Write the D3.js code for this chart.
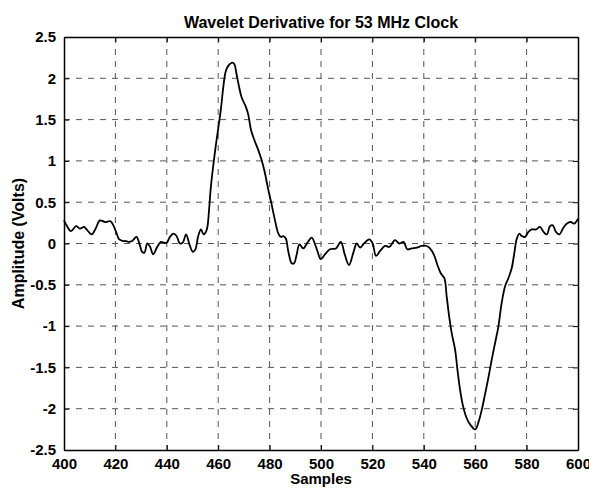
<!DOCTYPE html>
<html>
<head>
<meta charset="utf-8">
<title>Wavelet Derivative</title>
<script src="https://d3js.org/d3.v7.min.js"></script>
<style>
body { margin:0; background:#fff; }
text { font-family: Arial, "Liberation Sans", sans-serif; font-weight: bold; }
</style>
</head>
<body>
<script>
// values
var samples = [400,401,402.7,404.7,406.2,407.8,408.8,410.8,412.3,414,416,418,419.2,420.5,421.5,423,424.1,425,426.5,428.2,
	429.5,430.4,431.3,432.4,433.5,434.7,436.3,437.7,438.9,440,441.2,442.6,443.8,445.1,446.2,447.5,448.8,450.1,451,452.3,
	453.3,454.3,455.2,455.8,456.4,457.1,458.1,459,460,461.1,462,462.9,463.9,465.5,466.3,467.2,468.1,469.1,470.7,471.7,
	472.8,474.1,475.6,476.9,478.2,479.5,480.8,482.1,483.4,484.4,485.3,486.3,487.3,488.6,489.5,490.5,491.6,493.1,494.7,496.4,
	497.7,498.7,499.9,501.6,503.5,505.8,507.7,509.3,510.9,512.6,513.9,515.2,516.7,518.8,520.1,521.4,523,524.9,526.6,528.8,
	530.5,532.1,533.6,535.3,537.3,539.2,541.2,542.4,544,545.3,546.6,548,548.9,549.9,550.9,552.2,553.1,554.1,555.2,556.5,
	558,560,561.3,562.5,563.8,565.1,566.4,567.7,569,570.3,571.6,572.9,574.2,575.2,576.2,577.2,578.1,579.4,580.7,582,
	583.7,585.2,586.6,587.9,589.1,590.2,591.4,592.8,594.1,595.6,597.2,598.5,600];
var amplitude = [0.28,0.22,0.15,0.21,0.18,0.20,0.17,0.11,0.18,0.28,0.26,0.27,0.22,0.12,0.05,0.03,0.03,0.02,0.03,0.08,
	-0.02,-0.10,-0.11,0.00,-0.04,-0.13,-0.04,0.02,0.01,0.01,0.08,0.12,0.09,0.00,0.01,0.11,-0.01,-0.10,-0.08,0.10,
	0.17,0.11,0.14,0.20,0.39,0.67,0.95,1.17,1.39,1.64,1.90,2.08,2.15,2.19,2.17,2.04,1.90,1.77,1.66,1.56,
	1.37,1.25,1.13,1.01,0.85,0.65,0.47,0.28,0.12,0.08,0.09,0.06,-0.10,-0.24,-0.24,-0.14,-0.01,-0.06,0.01,0.07,
	-0.01,-0.10,-0.19,-0.13,-0.07,-0.06,0.02,-0.14,-0.26,-0.11,0.00,-0.05,0.00,0.05,0.00,-0.15,-0.09,-0.03,-0.04,0.04,
	0.00,0.02,-0.07,-0.06,-0.05,-0.03,-0.03,-0.06,-0.14,-0.26,-0.36,-0.42,-0.64,-0.89,-1.09,-1.29,-1.53,-1.77,-1.96,-2.10,
	-2.19,-2.25,-2.16,-2.02,-1.83,-1.63,-1.41,-1.21,-1.01,-0.72,-0.52,-0.42,-0.30,-0.12,0.06,0.12,0.09,0.08,0.14,0.17,
	0.17,0.20,0.14,0.11,0.21,0.22,0.14,0.11,0.18,0.24,0.26,0.24,0.30];
var xTicks = [400,420,440,460,480,500,520,540,560,580,600];
var yTicks = [-2.5,-2,-1.5,-1,-0.5,0,0.5,1,1.5,2,2.5];

var width = 589, height = 489;
var padL = 64, padT = 37, plotW = 514, plotH = 413;

var svg = d3.select('body').append('svg').attr('width', width).attr('height', height);

var x = d3.scaleLinear().domain([400,600]).range([padL, padL+plotW]);
var y = d3.scaleLinear().domain([-2.5,2.5]).range([padT+plotH, padT]);

// grid
svg.selectAll('line.vgrid').data(xTicks.slice(1,-1)).enter().append('line')
	.attr('x1', function(d){ return x(d); }).attr('x2', function(d){ return x(d); })
	.attr('y1', padT).attr('y2', padT+plotH)
	.attr('stroke', '#555').attr('stroke-dasharray', '6,6');
svg.selectAll('line.hgrid').data(yTicks.slice(1,-1)).enter().append('line')
	.attr('x1', padL).attr('x2', padL+plotW)
	.attr('y1', function(d){ return y(d); }).attr('y2', function(d){ return y(d); })
	.attr('stroke', '#555').attr('stroke-dasharray', '6,6');

// curve
var pts = samples.map(function(s,i){ return [s, amplitude[i]]; });
var line = d3.line().x(function(d){ return x(d[0]); }).y(function(d){ return y(d[1]); })
	.curve(d3.curveCatmullRom.alpha(0.5));
svg.append('path').datum(pts).attr('d', line)
	.attr('fill', 'none').attr('stroke', '#000').attr('stroke-width', 1.8);

// axes, ticks inward on all sides
var fmt = function(d){ return String(d); };
var gB = svg.append('g').attr('transform', 'translate(0,'+(padT+plotH)+')')
	.call(d3.axisBottom(x).tickValues(xTicks).tickSizeInner(-5).tickSizeOuter(0).tickPadding(8).tickFormat(fmt));
var gT = svg.append('g').attr('transform', 'translate(0,'+padT+')')
	.call(d3.axisTop(x).tickValues(xTicks).tickSizeInner(-5).tickSizeOuter(0).tickFormat(''));
var gL = svg.append('g').attr('transform', 'translate('+padL+',0)')
	.call(d3.axisLeft(y).tickValues(yTicks).tickSizeInner(-5).tickSizeOuter(0).tickPadding(8).tickFormat(fmt));
var gR = svg.append('g').attr('transform', 'translate('+(padL+plotW)+',0)')
	.call(d3.axisRight(y).tickValues(yTicks).tickSizeInner(-5).tickSizeOuter(0).tickFormat(''));

[gB,gT,gL,gR].forEach(function(g){
	g.select('.domain').attr('stroke', '#000').attr('stroke-width', 1.5);
	g.selectAll('.tick line').attr('stroke', '#000');
	g.selectAll('.tick text').attr('fill', '#000').style('font-size', '15px');
});
gB.selectAll('.tick text').attr('dy', '0.71em');

svg.append('text').attr('x', padL+plotW/2).attr('y', 28).attr('text-anchor', 'middle')
	.style('font-size', '16px').text('Wavelet Derivative for 53 MHz Clock');
svg.append('text').attr('x', padL+plotW/2).attr('y', 484).attr('text-anchor', 'middle')
	.style('font-size', '15px').text('Samples');
svg.append('text').attr('transform', 'translate(24,'+(padT+plotH/2)+') rotate(-90)').attr('text-anchor', 'middle')
	.style('font-size', '16px').text('Amplitude (Volts)');
</script>
</body>
</html>
